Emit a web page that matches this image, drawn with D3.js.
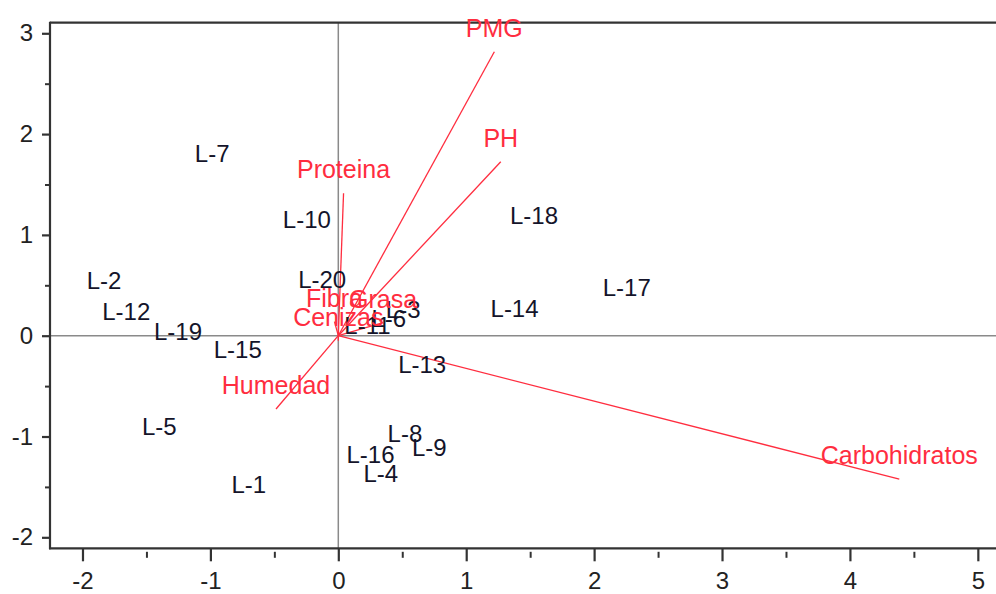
<!DOCTYPE html>
<html>
<head>
<meta charset="utf-8">
<script src="https://cdn.jsdelivr.net/npm/d3@7"></script>
<style>
  html, body { margin: 0; padding: 0; background: #fff; }
  svg { display: block; }
  text { font-family: Arial, "Liberation Sans", sans-serif; }
</style>
</head>
<body>
<svg id="chart" width="996" height="594"></svg>
<script>
// ---- Data ----
const obsLabels = ["L-1","L-2","L-3","L-4","L-5","L-6","L-7","L-8","L-9","L-10",
                   "L-11","L-12","L-13","L-14","L-15","L-16","L-17","L-18","L-19","L-20"];
const obsX = [-0.70, -1.832, 0.507, 0.332, -1.40, 0.395, -0.986, 0.521, 0.711, -0.246,
              0.228, -1.658, 0.656, 1.378, -0.786, 0.252, 2.255, 1.53, -1.253, -0.126];
const obsY = [-1.471, 0.548, 0.263, -1.365, -0.896, 0.168, 1.81, -0.972, -1.112, 1.151,
              0.106, 0.238, -0.281, 0.267, -0.139, -1.174, 0.475, 1.19, 0.04, 0.556];

const varLabels = ["PMG","PH","Proteina","Humedad","Carbohidratos","Fibra","Grasa","Cenizas"];
const varX = [1.22, 1.27, 0.041, -0.487, 4.386, -0.03, 0.35, 0.0];
const varY = [2.817, 1.726, 1.413, -0.727, -1.422, 0.14, 0.13, -0.05];

const xTicks = [-2, -1, 0, 1, 2, 3, 4, 5];
const xMinorTicks = [-1.5, -0.5, 0.5, 1.5, 2.5, 3.5, 4.5];
const yTicks = [-2, -1, 0, 1, 2, 3];
const yMinorTicks = [-1.5, -0.5, 0.5, 1.5, 2.5];

// ---- Layout ----
const svg = d3.select("#chart");
const padL = 50, padR = 996, padT = 22.7, padB = 548.3;

const x = d3.scaleLinear().domain([-2.254, 5.142]).range([padL, padR]);
const y = d3.scaleLinear().domain([-2.109, 3.105]).range([padB, padT]);

const red = "#ff2d3f";
const FONT = 24;
const fmt = d => d3.format("d")(d).replace("\u2212", "-");

// zero reference lines
svg.append("line")
  .attr("x1", padL).attr("x2", padR)
  .attr("y1", y(0)).attr("y2", y(0))
  .attr("stroke", "#8a8a8a").attr("stroke-width", 1.5);
svg.append("line")
  .attr("x1", x(0)).attr("x2", x(0))
  .attr("y1", padT).attr("y2", padB)
  .attr("stroke", "#8a8a8a").attr("stroke-width", 1.5);

// frame: top and left, bottom axis line
svg.append("line").attr("x1", padL).attr("x2", padR).attr("y1", padT).attr("y2", padT)
  .attr("stroke", "#333").attr("stroke-width", 2.2);
svg.append("line").attr("x1", padL).attr("x2", padL).attr("y1", padT - 1).attr("y2", padB + 1)
  .attr("stroke", "#333").attr("stroke-width", 2.2);
svg.append("line").attr("x1", padL - 1).attr("x2", padR).attr("y1", padB).attr("y2", padB)
  .attr("stroke", "#333").attr("stroke-width", 2.2);

// x axis (major)
const gx = svg.append("g").attr("transform", `translate(0,${padB})`)
  .call(d3.axisBottom(x).tickValues(xTicks).tickSize(13).tickPadding(11).tickFormat(fmt));
gx.select(".domain").remove();
gx.selectAll(".tick line").attr("stroke", "#333").attr("stroke-width", 2.2);
gx.selectAll(".tick text").attr("font-size", FONT).attr("fill", "#222")
  .attr("font-family", "Arial, 'Liberation Sans', sans-serif");

// x axis (minor)
const gxm = svg.append("g").attr("transform", `translate(0,${padB + 3.5})`)
  .call(d3.axisBottom(x).tickValues(xMinorTicks).tickSize(6).tickFormat(""));
gxm.select(".domain").remove();
gxm.selectAll(".tick line").attr("stroke", "#333").attr("stroke-width", 2);

// y axis (major)
const gy = svg.append("g").attr("transform", `translate(${padL},0)`)
  .call(d3.axisLeft(y).tickValues(yTicks).tickSize(8).tickPadding(9).tickFormat(fmt));
gy.select(".domain").remove();
gy.selectAll(".tick line").attr("stroke", "#333").attr("stroke-width", 2.2);
gy.selectAll(".tick text").attr("font-size", FONT).attr("fill", "#222")
  .attr("font-family", "Arial, 'Liberation Sans', sans-serif");

// y axis (minor)
const gym = svg.append("g").attr("transform", `translate(${padL},0)`)
  .call(d3.axisLeft(y).tickValues(yMinorTicks).tickSize(5).tickFormat(""));
gym.select(".domain").remove();
gym.selectAll(".tick line").attr("stroke", "#333").attr("stroke-width", 2);

// variable vectors
const vars = varLabels.map((l, i) => ({ label: l, x: varX[i], y: varY[i] }));
svg.append("g").selectAll("line").data(vars).join("line")
  .attr("x1", x(0)).attr("y1", y(0))
  .attr("x2", d => x(d.x)).attr("y2", d => y(d.y))
  .attr("stroke", red).attr("stroke-width", 1.3);

// observation labels
const obs = obsLabels.map((l, i) => ({ label: l, x: obsX[i], y: obsY[i] }));
svg.append("g").selectAll("text").data(obs).join("text")
  .attr("x", d => x(d.x)).attr("y", d => y(d.y))
  .attr("dy", "0.36em")
  .attr("text-anchor", "middle")
  .attr("font-size", FONT)
  .attr("fill", "#14142a")
  .text(d => d.label);

// variable labels
svg.append("g").selectAll("text").data(vars).join("text")
  .attr("x", d => x(d.x)).attr("y", d => y(d.y) - 15)
  .attr("text-anchor", "middle")
  .attr("font-size", 25)
  .attr("fill", red)
  .text(d => d.label);
</script>
</body>
</html>
